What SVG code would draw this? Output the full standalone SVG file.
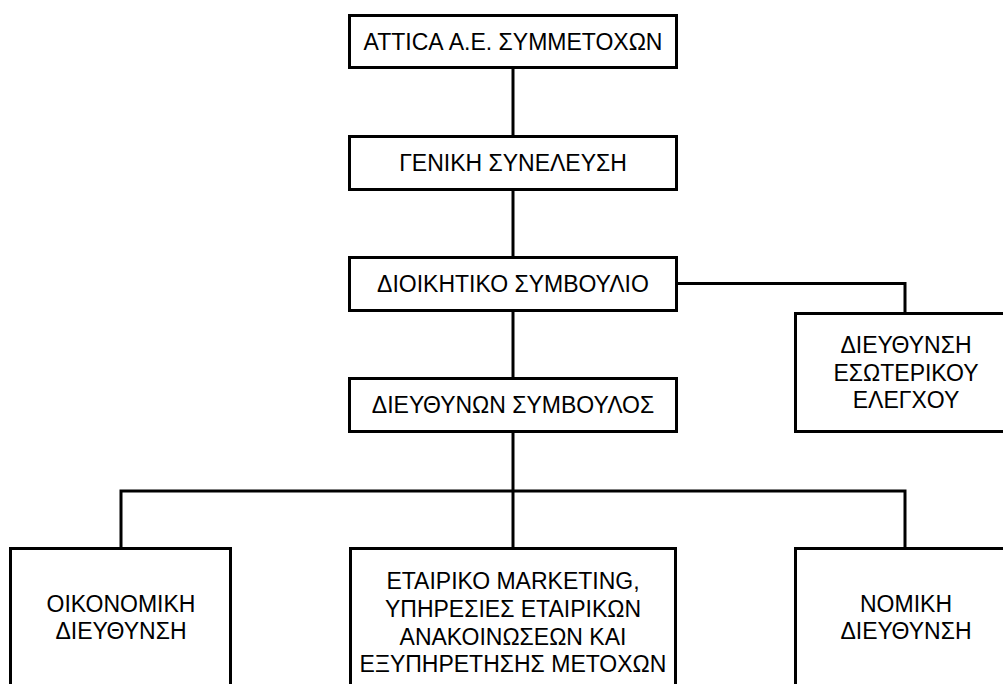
<svg xmlns="http://www.w3.org/2000/svg" width="1003" height="684" viewBox="0 0 1003 684">
<style>
.box{fill:#fff;stroke:#000;stroke-width:3}
.ln{fill:none;stroke:#000;stroke-width:3;stroke-linejoin:miter}
text{font-family:"Liberation Sans",Arial,sans-serif;font-size:23px;fill:#000;text-anchor:middle}
</style>
<rect width="1003" height="684" fill="#fff"/>
<g id="connectors">
<path class="ln" d="M513 69V136"/>
<path class="ln" d="M513 190V257"/>
<path class="ln" d="M513 311V378"/>
<path class="ln" d="M513 432V548"/>
<path class="ln" d="M121 548V491H905V548"/>
<path class="ln" d="M677 283.5H905V313"/>
</g>
<g id="n1"><rect class="box" x="349.5" y="15.5" width="327" height="52"/><text x="513" y="50">ATTICA Α.Ε. ΣΥΜΜΕΤΟΧΩΝ</text></g>
<g id="n2"><rect class="box" x="349.5" y="136.5" width="327" height="53"/><text x="513" y="171">ΓΕΝΙΚΗ ΣΥΝΕΛΕΥΣΗ</text></g>
<g id="n3"><rect class="box" x="349.5" y="257.5" width="327" height="53"/><text x="513" y="292">ΔΙΟΙΚΗΤΙΚΟ ΣΥΜΒΟΥΛΙΟ</text></g>
<g id="n4"><rect class="box" x="349.5" y="378.5" width="327" height="53"/><text x="513" y="413">ΔΙΕΥΘΥΝΩΝ ΣΥΜΒΟΥΛΟΣ</text></g>
<g id="n5"><rect class="box" x="795.5" y="313.5" width="223" height="118"/><text x="906" y="353">ΔΙΕΥΘΥΝΣΗ</text><text x="906" y="381">ΕΣΩΤΕΡΙΚΟΥ</text><text x="906" y="408">ΕΛΕΓΧΟΥ</text></g>
<g id="n6"><rect class="box" x="10.5" y="548.5" width="220" height="160"/><text x="121" y="612">ΟΙΚΟΝΟΜΙΚΗ</text><text x="121" y="639">ΔΙΕΥΘΥΝΣΗ</text></g>
<g id="n7"><rect class="box" x="350.5" y="548.5" width="325" height="160"/><text x="513" y="589">ΕΤΑΙΡΙΚΟ MARKETING,</text><text x="513" y="617">ΥΠΗΡΕΣΙΕΣ ΕΤΑΙΡΙΚΩΝ</text><text x="513" y="645">ΑΝΑΚΟΙΝΩΣΕΩΝ ΚΑΙ</text><text x="513" y="672">ΕΞΥΠΗΡΕΤΗΣΗΣ ΜΕΤΟΧΩΝ</text></g>
<g id="n8"><rect class="box" x="795.5" y="548.5" width="223" height="160"/><text x="906" y="612">ΝΟΜΙΚΗ</text><text x="906" y="639">ΔΙΕΥΘΥΝΣΗ</text></g>
</svg>
